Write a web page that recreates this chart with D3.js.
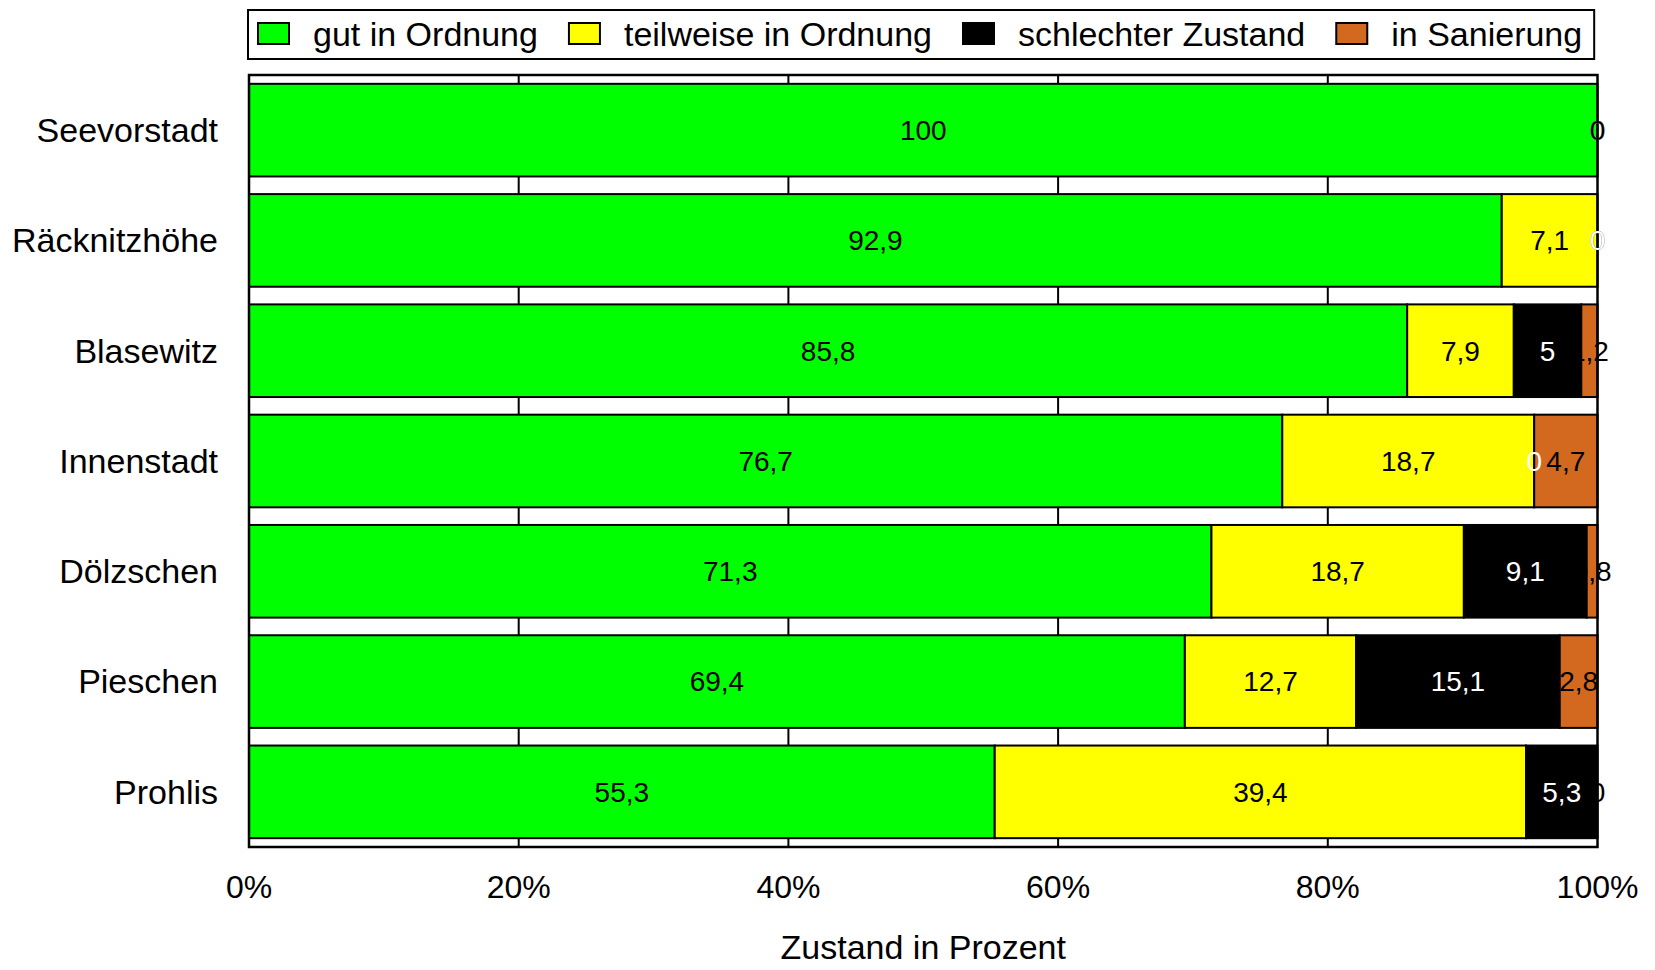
<!DOCTYPE html>
<html>
<head>
<meta charset="utf-8">
<script src="https://cdn.jsdelivr.net/npm/d3@7"></script>
<style>
  html, body { margin: 0; padding: 0; background: #fff; }
  svg { display: block; font-family: "Liberation Sans", Arial, sans-serif; }
</style>
</head>
<body>
<svg id="chart" width="1655" height="970"></svg>
<script>
const categories = ["Seevorstadt", "Räcknitzhöhe", "Blasewitz", "Innenstadt", "Dölzschen", "Pieschen", "Prohlis"];
const seriesNames = ["gut in Ordnung", "teilweise in Ordnung", "schlechter Zustand", "in Sanierung"];
const gut = [100, 92.9, 85.8, 76.7, 71.3, 69.4, 55.3];
const teilweise = [0, 7.1, 7.9, 18.7, 18.7, 12.7, 39.4];
const schlecht = [0, 0, 5, 0, 9.1, 15.1, 5.3];
const sanierung = [0, 0, 1.2, 4.7, 0.8, 2.8, 0];
const xTicks = [0, 0.2, 0.4, 0.6, 0.8, 1];
const xTickLabels = ["0%", "20%", "40%", "60%", "80%", "100%"];
const seriesColors = ["#00FF00", "#FFFF00", "#000000", "#D2691E"];
const labelColors = ["#000000", "#000000", "#FFFFFF", "#000000"];
const xTitle = "Zustand in Prozent";

const seriesValues = [gut, teilweise, schlecht, sanierung];
const keys = seriesNames;
const rows = categories.map((c, i) => {
  const r = { cat: c };
  keys.forEach((k, j) => r[k] = seriesValues[j][i]);
  return r;
});
const stacked = d3.stack().keys(keys).offset(d3.stackOffsetExpand)(rows);

const svg = d3.select("#chart");
const plot = { left: 249, right: 1597.5, top: 75, bottom: 847 };

const x = d3.scaleLinear().domain([0, 1]).range([plot.left, plot.right]);
const y = d3.scaleBand().domain(categories).range([plot.top, plot.bottom])
  .paddingInner(0.16).paddingOuter(0.08);
const color = d3.scaleOrdinal().domain(keys).range(seriesColors);
const fmt = v => String(v).replace(".", ",");

// vertical grid lines
svg.append("g").selectAll("line")
  .data(xTicks.slice(1, -1))
  .join("line")
  .attr("x1", d => x(d)).attr("x2", d => x(d))
  .attr("y1", plot.top).attr("y2", plot.bottom)
  .attr("stroke", "#000").attr("stroke-width", 2);

// bars
const barG = svg.append("g");
stacked.forEach((s, si) => {
  barG.append("g").selectAll("rect")
    .data(s.filter(d => d[1] - d[0] > 0))
    .join("rect")
    .attr("x", d => x(d[0]))
    .attr("y", d => y(d.data.cat))
    .attr("width", d => x(d[1]) - x(d[0]))
    .attr("height", y.bandwidth())
    .attr("fill", color(s.key))
    .attr("stroke", "#000")
    .attr("stroke-width", 2);
});

// plot border
svg.append("rect")
  .attr("x", plot.left).attr("y", plot.top)
  .attr("width", plot.right - plot.left).attr("height", plot.bottom - plot.top)
  .attr("fill", "none").attr("stroke", "#000").attr("stroke-width", 2.5);

// value labels (drawn in reverse series order)
const labG = svg.append("g");
stacked.slice().reverse().forEach(s => {
  const si = keys.indexOf(s.key);
  labG.append("g").selectAll("text")
    .data(s)
    .join("text")
    .attr("x", d => x((d[0] + d[1]) / 2))
    .attr("y", d => y(d.data.cat) + y.bandwidth() / 2)
    .attr("dy", "0.35em")
    .attr("text-anchor", "middle")
    .attr("font-size", 28)
    .attr("fill", labelColors[si])
    .text(d => fmt(d.data[s.key]));
});

// category labels
svg.append("g").selectAll("text")
  .data(categories)
  .join("text")
  .attr("x", 218)
  .attr("y", d => y(d) + y.bandwidth() / 2)
  .attr("dy", "0.35em")
  .attr("text-anchor", "end")
  .attr("font-size", 34)
  .attr("fill", "#000")
  .text(d => d);

// x tick labels
svg.append("g").selectAll("text")
  .data(xTicks)
  .join("text")
  .attr("x", d => x(d))
  .attr("y", 898)
  .attr("text-anchor", "middle")
  .attr("font-size", 32)
  .attr("fill", "#000")
  .text((d, i) => xTickLabels[i]);

// x title
svg.append("text")
  .attr("x", (plot.left + plot.right) / 2)
  .attr("y", 959)
  .attr("text-anchor", "middle")
  .attr("font-size", 34)
  .attr("fill", "#000")
  .text(xTitle);

// legend
const legG = svg.append("g");
const legBox = legG.append("rect")
  .attr("fill", "#fff").attr("stroke", "#000").attr("stroke-width", 2);
let lx = 258;
keys.forEach((k, i) => {
  legG.append("rect")
    .attr("x", lx).attr("y", 23)
    .attr("width", 31).attr("height", 21)
    .attr("fill", seriesColors[i]).attr("stroke", "#000").attr("stroke-width", 2);
  const t = legG.append("text")
    .attr("x", lx + 55).attr("y", 34)
    .attr("dy", "0.35em")
    .attr("font-size", 34)
    .attr("fill", "#000")
    .text(k);
  const w = t.node().getComputedTextLength();
  lx = lx + 55 + w + 31;
});
legBox.attr("x", 248).attr("y", 10)
  .attr("width", lx - 31 + 12 - 248).attr("height", 49);
</script>
</body>
</html>
